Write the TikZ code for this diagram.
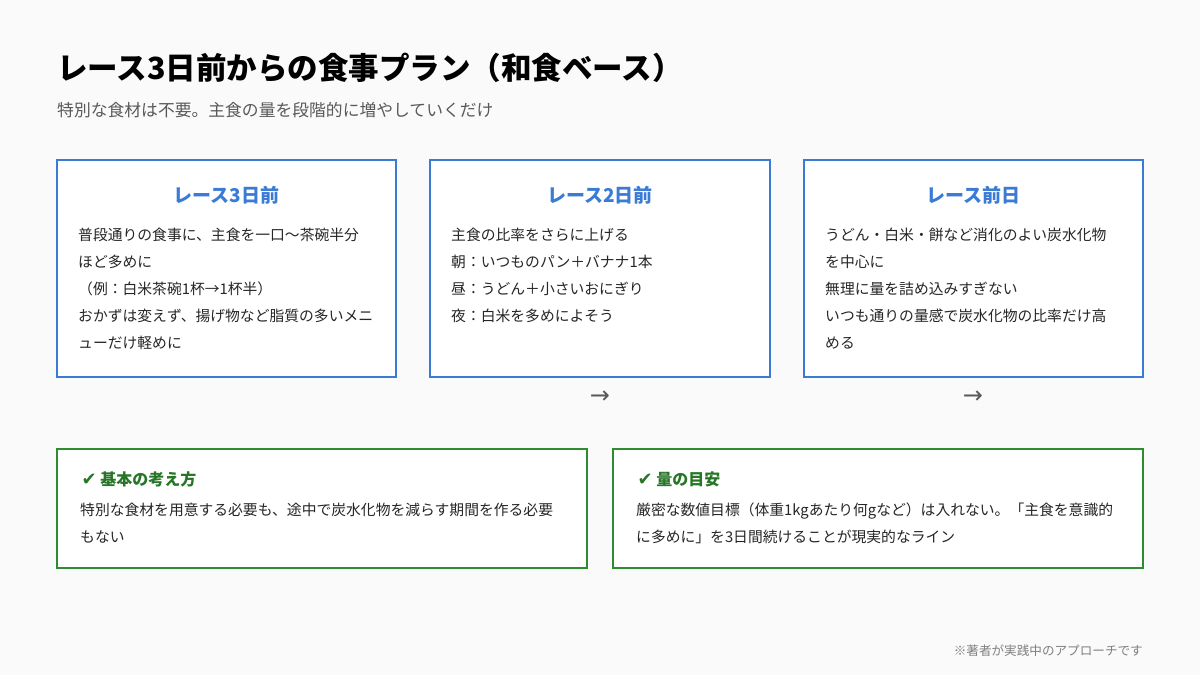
\documentclass[tikz,border=0pt]{standalone}
\usepackage{fontspec}
\setmainfont{Noto Sans CJK JP}
\newfontfamily\djv{DejaVu Sans}
\definecolor{bl}{HTML}{3A7BD5}
\definecolor{gr}{HTML}{2E8B2E}
\begin{document}
\begin{tikzpicture}[x=1pt,y=-1pt,
  tbox/.style={draw=bl,line width=2.4pt,fill=white},
  gbox/.style={draw=gr,line width=1.8pt,fill=white},
  ttl/.style={text=bl,font=\fontsize{19}{22}\selectfont\bfseries,anchor=center},
  gttl/.style={text=gr!85!black,font=\fontsize{16}{19}\selectfont\bfseries,anchor=west},
  body/.style={anchor=north west,align=left,text=black!85,font=\fontsize{14.8}{27}\selectfont,inner sep=0pt},
  arr/.style={text=black!65,font=\djv\fontsize{24}{26}\selectfont}]
\fill[black!2!white] (0,0) rectangle (1200,675);
\useasboundingbox (0,0) rectangle (1200,675);
\node[anchor=west,inner sep=0pt,font=\fontsize{30.5}{36}\selectfont\bfseries] (title) at (57,68) {レース3日前からの食事プラン（和食ベース）};
\node[anchor=west,inner sep=0pt,text=black!65,font=\fontsize{16.8}{19}\selectfont] (sub) at (57,110) {特別な食材は不要。主食の量を段階的に増やしていくだけ};
\draw[tbox] (57,160) rectangle (396,377);
\draw[tbox] (430,160) rectangle (770,377);
\draw[tbox] (804,160) rectangle (1143,377);
\node[ttl] (t1) at (226.5,195) {レース3日前};
\node[ttl] (t2) at (600,195) {レース2日前};
\node[ttl] (t3) at (973.5,195) {レース前日};
\node[body] (b1) at (78,228) {普段通りの食事に、主食を一口〜茶碗半分\\ほど多めに\\（例：白米茶碗1杯→1杯半）\\おかずは変えず、揚げ物など脂質の多いメニ\\ューだけ軽めに};
\node[body] (b2) at (451,228) {主食の比率をさらに上げる\\朝：いつものパン＋バナナ1本\\昼：うどん＋小さいおにぎり\\夜：白米を多めによそう};
\node[body] (b3) at (825,228) {うどん・白米・餅など消化のよい炭水化物\\を中心に\\無理に量を詰め込みすぎない\\いつも通りの量感で炭水化物の比率だけ高\\める};
\node[arr] (a1) at (600,397) {→};
\node[arr] (a2) at (973,397) {→};
\draw[gbox] (57,449) rectangle (587,568);
\draw[gbox] (613,449) rectangle (1143,568);
\node[gttl] (g1) at (78,479) {{\djv\fontsize{18}{20}\selectfont ✔} 基本の考え方};
\node[gttl] (g2) at (634,479) {{\djv\fontsize{18}{20}\selectfont ✔} 量の目安};
\node[body] (gb1) at (80,503) {特別な食材を用意する必要も、途中で炭水化物を減らす期間を作る必要\\もない};
\node[body] (gb2) at (636,503) {厳密な数値目標（体重1kgあたり何gなど）は入れない。「主食を意識的\\に多めに」を3日間続けることが現実的なライン};
\node[anchor=east,inner sep=0pt,text=black!50,font=\fontsize{12.6}{14}\selectfont] (foot) at (1143,651) {※著者が実践中のアプローチです};
\end{tikzpicture}
\end{document}
